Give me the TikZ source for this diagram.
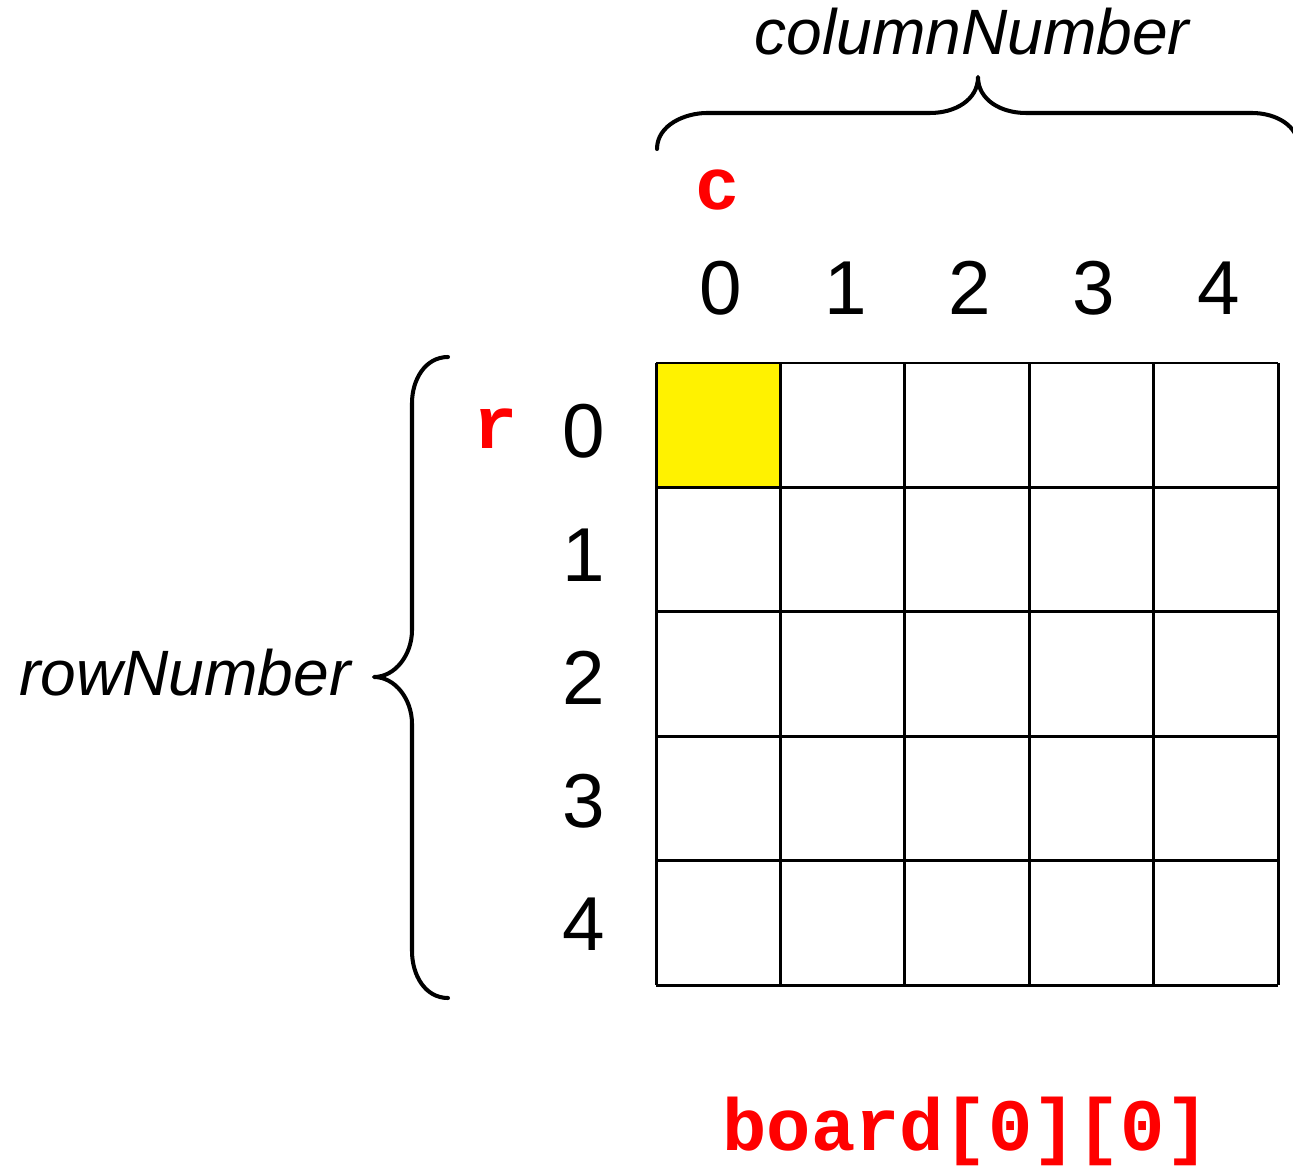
\documentclass[tikz,border=0pt]{standalone}
\usepackage{fontspec}
\setmainfont{Liberation Sans}
\setmonofont{Liberation Mono}
\tikzset{
  digit/.style={anchor=base, inner sep=0pt, font=\fontsize{43.5}{50}\selectfont},
  codelabel/.style={anchor=base, inner sep=0pt, text=red, font=\fontsize{42}{48}\selectfont\ttfamily\bfseries},
  bracelabel/.style={anchor=base, inner sep=0pt, font=\fontsize{36.5}{42}\selectfont\itshape},
  brace/.style={line width=2.3pt, line cap=round},
  cellline/.style={line width=1.7pt}
}
\begin{document}
\begin{tikzpicture}[x=0.02cm, y=-0.02cm, line join=round]
  \useasboundingbox (0,0) rectangle (1293,1168);

  % board cells, first one marked
  \fill[yellow] (656,363) rectangle (780.4,487.4);
  \foreach \i in {0,...,5} {
    \draw[cellline] (656+124.4*\i, 363) -- (656+124.4*\i, 985);
    \draw[cellline] (656, 363+124.4*\i) -- (1278, 363+124.4*\i);
  }

  % column and row numbers
  \foreach \i in {0,...,4} {
    \node[digit] (col\i) at (721+124.4*\i, 315) {\i};
    \node[digit] (row\i) at (584, 458+123*\i) {\i};
  }

  \node[codelabel] (cvar) at (718, 210) {c};
  \node[codelabel] (rvar) at (496, 448) {r};
  \node[codelabel] (cell) at (966, 1150) {board[0][0]};

  % braces
  \draw[brace] (657,149) .. controls (657,125) and (685,113) .. (707,113) -- (930,113)
    .. controls (955,113) and (978,100) .. (978,77)
    .. controls (978,100) and (1001,113) .. (1026,113) -- (1252,113)
    .. controls (1275,113) and (1299,125) .. (1299,149);
  \draw[brace] (448,357) .. controls (425,357) and (412,380) .. (412,403) -- (412,630)
    .. controls (412,655) and (395,677) .. (374,677)
    .. controls (395,677) and (412,699) .. (412,724) -- (412,951)
    .. controls (412,975) and (425,998) .. (448,998);

  \node[bracelabel] (colname) at (972, 55) {columnNumber};
  \node[bracelabel] (rowname) at (185, 695) {rowNumber};
\end{tikzpicture}
\end{document}
